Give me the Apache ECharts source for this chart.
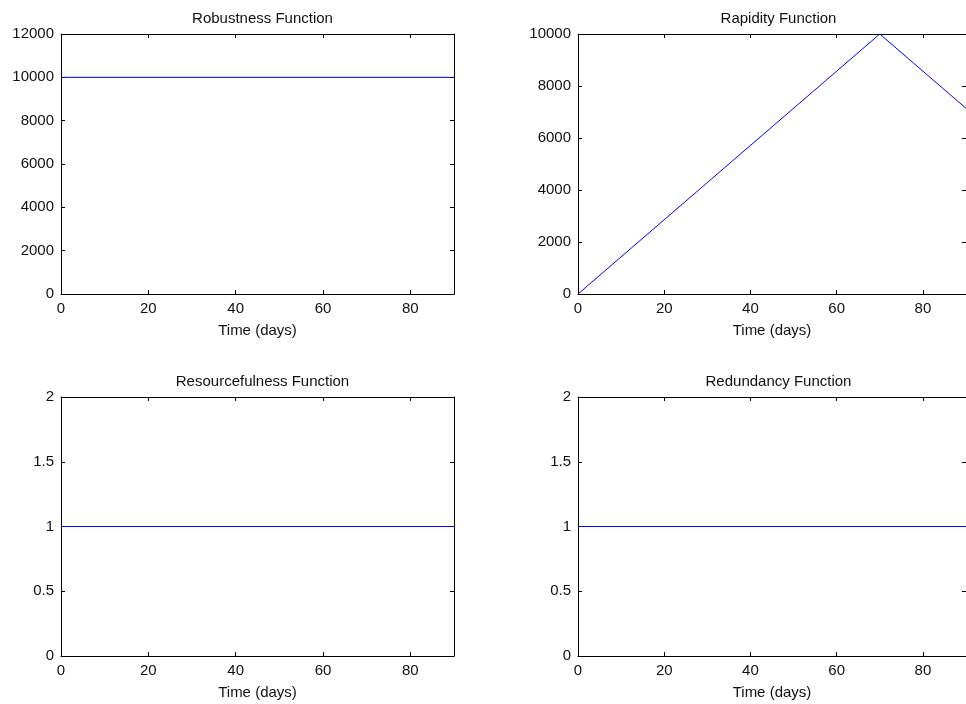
<!DOCTYPE html>
<html>
<head>
<meta charset="utf-8">
<script src="https://cdn.jsdelivr.net/npm/echarts@6/dist/echarts.min.js"></script>
<style>
html,body{margin:0;padding:0;background:#fff;}
#main{width:966px;height:704px;}
</style>
</head>
<body>
<div id="main"></div>
<script>
// ---- data ----
var titles = ['Robustness Function', 'Rapidity Function', 'Resourcefulness Function', 'Redundancy Function'];
var xName = 'Time (days)';
var xTicks = [0, 20, 40, 60, 80];
var timeFlat = [0, 90];
var robustness = [10000, 10000];
var timeRapidity = [0, 70, 90];
var rapidity = [0, 10000, 7143];
var resourcefulness = [1, 1];
var redundancy = [1, 1];
var yRanges = [[0, 12000, 2000], [0, 10000, 2000], [0, 2, 0.5], [0, 2, 0.5]];

function pairs(xs, ys) { return xs.map(function (x, i) { return [x, ys[i]]; }); }
var seriesData = [pairs(timeFlat, robustness), pairs(timeRapidity, rapidity), pairs(timeFlat, resourcefulness), pairs(timeFlat, redundancy)];
var lineColors = ['#0000c8', '#0000ff', '#0000ff', '#0000ff'];

// ---- layout ----
var grids = [
  {left: 61, top: 34, width: 393, height: 260},
  {left: 578, top: 34, width: 393, height: 260},
  {left: 61, top: 397, width: 393, height: 259},
  {left: 578, top: 397, width: 393, height: 259}
];
var font = {fontFamily: 'Liberation Sans, Arial, sans-serif', fontSize: 15, color: '#111'};
var axisLine = {show: true, onZero: false, lineStyle: {color: '#000', width: 1}};
var tick = {show: true, inside: true, length: 4, lineStyle: {color: '#000', width: 1}};

var xAxes = [], yAxes = [], series = [], titleOpts = [];
grids.forEach(function (g, i) {
  xAxes.push({
    type: 'value', gridIndex: i, position: 'bottom', min: 0, max: 90,
    axisLine: axisLine,
    axisTick: Object.assign({customValues: xTicks}, tick),
    axisLabel: Object.assign({customValues: xTicks, margin: 7, formatter: function (v) { return String(v); }}, font),
    splitLine: {show: false},
    name: xName, nameLocation: 'middle', nameGap: 29, nameTextStyle: font
  });
  xAxes.push({
    type: 'value', gridIndex: i, position: 'top', min: 0, max: 90,
    axisLine: axisLine,
    axisTick: Object.assign({customValues: xTicks}, tick),
    axisLabel: {show: false}, splitLine: {show: false}
  });
  var r = yRanges[i];
  yAxes.push({
    type: 'value', gridIndex: i, position: 'left', min: r[0], max: r[1], interval: r[2],
    axisLine: axisLine, axisTick: tick,
    axisLabel: Object.assign({margin: 7, formatter: function (v) { return String(v); }}, font),
    splitLine: {show: false}
  });
  yAxes.push({
    type: 'value', gridIndex: i, position: 'right', min: r[0], max: r[1], interval: r[2],
    axisLine: axisLine, axisTick: tick,
    axisLabel: {show: false}, splitLine: {show: false}
  });
  series.push({
    type: 'line', xAxisIndex: 2 * i, yAxisIndex: 2 * i, data: seriesData[i],
    showSymbol: false, symbol: 'none', animation: false,
    lineStyle: {color: lineColors[i], width: 1}
  });
  titleOpts.push({
    text: titles[i], left: g.left + g.width / 2 - (i % 2 === 1 ? 1 : 0), top: g.top - 28, textAlign: 'center',
    textStyle: {fontFamily: font.fontFamily, fontSize: 15, fontWeight: 'normal', color: '#111'}
  });
});

var chart = echarts.init(document.getElementById('main'), null, {renderer: 'canvas'});
chart.setOption({
  backgroundColor: '#fff',
  animation: false,
  title: titleOpts,
  grid: grids,
  xAxis: xAxes,
  yAxis: yAxes,
  series: series
});
</script>
</body>
</html>
